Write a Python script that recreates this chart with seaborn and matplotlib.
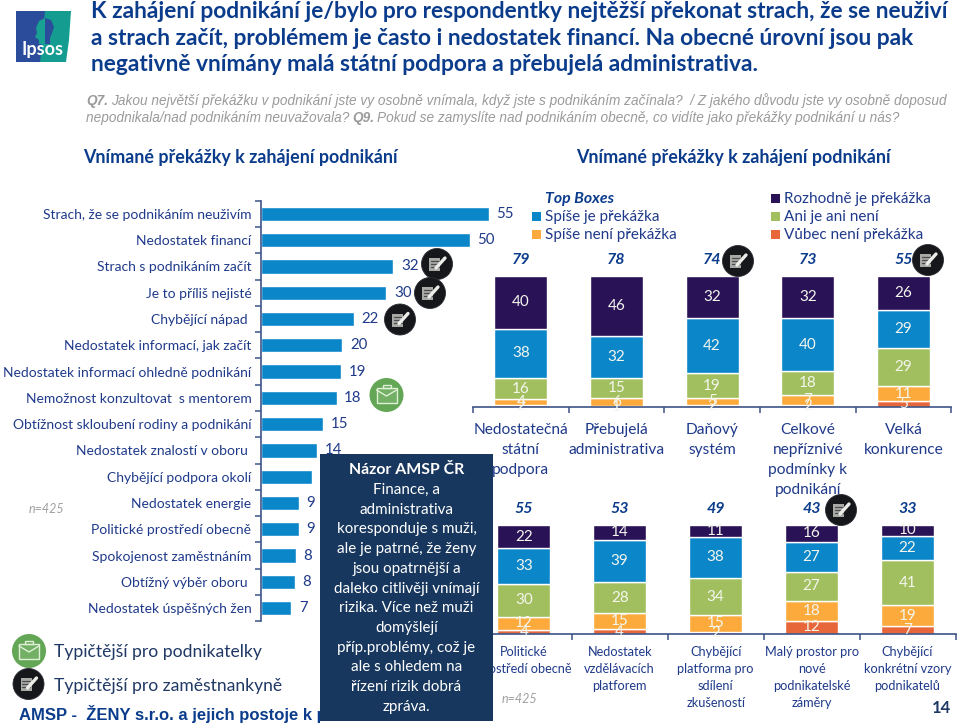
import numpy as np
import matplotlib
matplotlib.use("Agg")
import matplotlib.pyplot as plt
import seaborn as sns
from matplotlib.patches import Circle, Polygon, Rectangle, FancyBboxPatch
from matplotlib.ticker import FixedLocator

# data
prekazky = ["Strach, že se podnikáním neuživím", "Nedostatek financí", "Strach s podnikáním začít",
            "Je to příliš nejisté", "Chybějící nápad ", "Nedostatek informací, jak začít",
            "Nedostatek informací ohledně podnikání", "Nemožnost konzultovat  s mentorem",
            "Obtížnost skloubení rodiny a podnikání", "Nedostatek znalostí v oboru ",
            "Chybějící podpora okolí", "Nedostatek energie", "Politické prostředí obecně",
            "Spokojenost zaměstnáním", "Obtížný výběr oboru ", "Nedostatek úspěšných žen"]
podil = [55, 50.4, 32, 30.3, 22.4, 19.7, 19.4, 18.3, 15.1, 13.7, 12.5, 9.2, 9.2, 8.5, 8.2, 7.4]

cats_top = ["Nedostatečná\nstátní\npodpora", "Přebujelá\nadministrativa", "Daňový\nsystém",
            "Celkové\nnepříznivé\npodmínky k\npodnikání", "Velká\nkonkurence"]
top_rozhodne = [40, 46, 32, 32.3, 26]
top_spise = [38, 32, 42, 40.4, 29]
top_ani = [16, 15, 19, 18.3, 29]
top_spise_ne = [4, 6, 5, 6.9, 11]
top_vubec = [2, 1, 2, 2.1, 5]
top_boxes = [79, 78, 74, 73, 55]

cats_bot = ["Politické\nprostředí obecně", "Nedostatek\nvzdělávacích\nplatforem",
            "Chybějící\nplatforma pro\nsdílení\nzkušeností",
            "Malý prostor pro\nnové\npodnikatelské\nzáměry", "Chybějící\nkonkrétní vzory\npodnikatelů"]
bot_rozhodne = [21.7, 14, 11, 16, 10.4]
bot_spise = [33, 39, 38, 27, 22.3]
bot_ani = [29.6, 28, 34, 27, 41.2]
bot_spise_ne = [12, 15, 15, 18, 19.2]
bot_vubec = [3.7, 4, 2, 12, 7]
bot_boxes = [55, 53, 49, 43, 33]

C_PURPLE = "#2a1257"
C_BLUE = "#0a86c9"
C_GREEN = "#a2bf5f"
C_ORANGE = "#fcaa3c"
C_RED = "#e8673a"
C_NAVY = "#1f3a8a"
C_TITLE = "#0b3c8c"
C_BOX = "#17375e"
C_AXIS = "#3c5488"
FONT = "Lato"

W, H = 960, 724
sns.set_theme(style="white")
plt.rcParams["font.family"] = [FONT, "DejaVu Sans"]
plt.rcParams["text.color"] = C_NAVY


def px_axes(fig, left, top, right, bottom):
    return fig.add_axes([left / W, 1 - bottom / H, (right - left) / W, (bottom - top) / H])


def stacked(fig, left, top, right, bottom, cats, series, boxes, tick_size, tick_pad, spacing):
    ax = px_axes(fig, left, top, right, bottom)
    base = np.zeros(5)
    for vals, col in series:
        sns.barplot(x=cats, y=vals, bottom=base, color=col, width=0.555, saturation=1, ax=ax, zorder=2)
        cont = ax.containers[-1]
        ax.bar_label(cont, fmt="%.0f", label_type="center", color="#f4f6ee", fontsize=11, zorder=3)
        base = base + np.array(vals)
    ax.set_xlim(-0.5, 4.5)
    ax.set_ylim(0, 100)
    ax.set_ylabel("")
    ax.yaxis.set_visible(False)
    ax.patch.set_alpha(0)
    for s in ["top", "left", "right"]:
        ax.spines[s].set_visible(False)
    ax.spines["bottom"].set_color(C_AXIS)
    ax.spines["bottom"].set_linewidth(1.2)
    ax.xaxis.set_minor_locator(FixedLocator(np.arange(-0.5, 5)))
    ax.tick_params(axis="x", which="minor", bottom=True, length=4, width=1.1, color=C_AXIS)
    ax.tick_params(axis="x", which="major", bottom=False, length=0, pad=tick_pad, labelsize=tick_size, labelcolor=C_NAVY)
    for lab in ax.get_xticklabels():
        lab.set_linespacing(spacing)
        lab.set_verticalalignment("top")
    for i, b in enumerate(boxes):
        ax.text(i, 100 + 16 / ((bottom - top) / 100), str(b), ha="center", va="center", fontsize=11.5,
                fontweight="bold", fontstyle="italic", color=C_TITLE)
    return ax


def zam_icon(ax, x, y, r=15.5):
    # black circle with note + pen
    ax.add_patch(Circle((x, y), r, fc="#16171b", ec="#2b2d33", lw=0.6, zorder=20))
    ax.add_patch(Rectangle((x - 8, y - 6), 11, 13, fc="#a9a9a6", ec="none", zorder=21))
    for k in range(3):
        ax.plot([x - 6.5, x + 1.5], [y - 3 + k * 3.2, y - 3 + k * 3.2], color="#4a4b4f", lw=0.9, zorder=22)
    ax.plot([x - 1, x + 8], [y + 4, y - 6], color="#ecece9", lw=2.4, zorder=23)


def pod_icon(ax, x, y, r=17):
    # green circle with briefcase
    ax.add_patch(Circle((x, y), r, fc="#63a655", ec="none", zorder=20))
    ax.add_patch(Rectangle((x - 10, y - 7), 20, 15, fc="#73b066", ec="#dff0d6", lw=1, zorder=21))
    ax.add_patch(Rectangle((x - 4, y - 10), 8, 3, fc="none", ec="#dff0d6", lw=1, zorder=21))
    ax.plot([x - 10, x, x + 10], [y - 5, y + 1, y - 5], color="#dff0d6", lw=1, zorder=22)


fig = plt.figure(figsize=(W / 100, H / 100), dpi=100, facecolor="white")

# horizontal bars
ax_bar = px_axes(fig, 260.5, 200.7, 489, 621.3)
sns.barplot(x=podil, y=prekazky, color=C_BLUE, width=0.54, saturation=1, ax=ax_bar)
ax_bar.bar_label(ax_bar.containers[0], fmt="%.0f", padding=5.5, color=C_NAVY, fontsize=10.8)
ax_bar.set_xlim(0, 55)
ax_bar.set_ylim(15.5, -0.5)
ax_bar.xaxis.set_visible(False)
for s in ["top", "bottom", "right"]:
    ax_bar.spines[s].set_visible(False)
ax_bar.spines["left"].set_color(C_AXIS)
ax_bar.spines["left"].set_linewidth(1.2)
ax_bar.yaxis.set_minor_locator(FixedLocator(np.arange(-0.5, 16)))
ax_bar.tick_params(axis="y", which="minor", left=True, length=4, width=1.1, color=C_AXIS)
ax_bar.tick_params(axis="y", which="major", left=False, length=0, pad=6.5, labelsize=10, labelcolor=C_NAVY)
ax_bar.patch.set_alpha(0)

# stacked columns
top_series = [(top_vubec, C_RED), (top_spise_ne, C_ORANGE), (top_ani, C_GREEN), (top_spise, C_BLUE), (top_rozhodne, C_PURPLE)]
bot_series = [(bot_vubec, C_RED), (bot_spise_ne, C_ORANGE), (bot_ani, C_GREEN), (bot_spise, C_BLUE), (bot_rozhodne, C_PURPLE)]
stacked(fig, 472.9, 276, 951.4, 407.3, cats_top, top_series, top_boxes, 11.2, 11.5, 1.53)
stacked(fig, 475.8, 524.7, 955.5, 633.7, cats_bot, bot_series, bot_boxes, 9.2, 8.7, 1.5)

# page level layer in pixels
pg = fig.add_axes([0, 0, 1, 1], zorder=10)
pg.set_xlim(0, W)
pg.set_ylim(H, 0)
pg.axis("off")

# logo
pg.add_patch(Polygon([(16, 11), (45, 11), (45, 62), (16, 62)], fc="#2b4b9b", ec="none"))
pg.add_patch(Polygon([(45, 11), (71, 11), (69, 40), (66, 62), (40, 62)], fc="#149c90", ec="none"))
pg.add_patch(Polygon([(45, 18), (39, 21), (36, 28), (37, 33), (35, 37), (39, 40), (39, 44), (45, 44)], fc="#18a193", ec="none"))
pg.add_patch(Polygon([(45, 18), (51, 20), (54, 27), (52, 33), (50, 38), (50, 44), (45, 44)], fc="#2b4b9b", ec="none"))
pg.text(42.5, 49, "Ipsos", ha="center", va="center", color="white", fontsize=13, fontweight="bold")

# title
title = ["K zahájení podnikání je/bylo pro respondentky nejtěžší překonat strach, že se neuživí",
         "a strach začít, problémem je často i nedostatek financí. Na obecné úrovní jsou pak",
         "negativně vnímány malá státní podpora a přebujelá administrativa."]
for i, line in enumerate(title):
    pg.text(91, 12 + i * 26.3, line, fontsize=16.4, fontweight="bold", color=C_TITLE, va="center")

# question
GREY = "#9a9a9a"
qk = dict(family="Liberation Sans", fontstyle="italic", color=GREY, fontsize=9.8, va="center")
pg.text(86, 101, "Q7.", fontweight="bold", **qk)
pg.text(111, 101, "Jakou největší překážku v podnikání jste vy osobně vnímala, když jste s podnikáním začínala?  / Z jakého důvodu jste vy osobně doposud", **qk)
pg.text(86, 118, "nepodnikala/nad podnikáním neuvažovala?", **qk)
pg.text(352, 118, "Q9.", fontweight="bold", **qk)
pg.text(377, 118, "Pokud se zamyslíte nad podnikáním obecně, co vidíte jako překážky podnikání u nás?", **qk)

pg.text(83, 157, "Vnímané překážky k zahájení podnikání", fontsize=12.9, fontweight="bold", color=C_TITLE, va="center")
pg.text(576, 157, "Vnímané překážky k zahájení podnikání", fontsize=12.9, fontweight="bold", color=C_TITLE, va="center")

# legends
pg.text(545, 198.5, "Top Boxes", fontsize=11.4, fontweight="bold", fontstyle="italic", color=C_TITLE, va="center")
for y, col, txt in [(216.5, C_BLUE, "Spíše je překážka"), (234.5, C_ORANGE, "Spíše není překážka")]:
    pg.add_patch(Rectangle((532, y - 4.5), 9, 9, fc=col, ec="none"))
    pg.text(545, y, txt, fontsize=11, color=C_NAVY, va="center")
for y, col, txt in [(198.5, C_PURPLE, "Rozhodně je překážka"), (216.5, C_GREEN, "Ani je ani není"), (234.5, C_RED, "Vůbec není překážka")]:
    pg.add_patch(Rectangle((770.5, y - 4.5), 9, 9, fc=col, ec="none"))
    pg.text(784, y, txt, fontsize=11, color=C_NAVY, va="center")

# icons
for x, y in [(437, 264), (430, 293), (400, 319.5), (738, 261), (928, 260), (841, 510)]:
    zam_icon(pg, x, y)
pod_icon(pg, 386.5, 395)
pod_icon(pg, 29, 651)
zam_icon(pg, 28.5, 684)

# misc text
pg.text(29, 509, "n=425", fontsize=9, fontstyle="italic", color="#a0a0a0", va="center")
pg.text(502, 699, "n=425", fontsize=9, fontstyle="italic", color="#a0a0a0", va="center")
pg.text(54, 652, "Typičtější pro podnikatelky", fontsize=12.6, color="#1f3864", va="center")
pg.text(54, 686, "Typičtější pro zaměstnankyně", fontsize=12.6, color="#1f3864", va="center")
pg.text(19, 714, "AMSP -  ŽENY s.r.o. a jejich postoje k podnikání", family="Liberation Sans", fontsize=12,
        fontweight="bold", color=C_TITLE, va="center")
pg.text(951, 708, "14", fontsize=12, fontweight="bold", color="#1f3864", ha="right", va="center")

# AMSP box sits on top of everything under it
pg.add_patch(FancyBboxPatch((320, 454), 172.7, 266.7, boxstyle="square,pad=0", fc=C_BOX, ec="none", zorder=30))
pg.text(406.5, 470, "Názor AMSP ČR", fontsize=11.4, fontweight="bold", color="white", ha="center", va="center", zorder=31)
box_lines = ["Finance, a", "administrativa", "koresponduje s muži,", "ale je patrné, že ženy", "jsou opatrnější a",
             "daleko citlivěji vnímají", "rizika. Více než muži", "domýšlejí", "příp.problémy, což je",
             "ale s ohledem na", "řízení rizik dobrá", "zpráva."]
for i, line in enumerate(box_lines):
    pg.text(406.5, 490 + i * 19.72, line, fontsize=10.9, color="white", ha="center", va="center", zorder=31)

fig.savefig("out.png", dpi=100)
